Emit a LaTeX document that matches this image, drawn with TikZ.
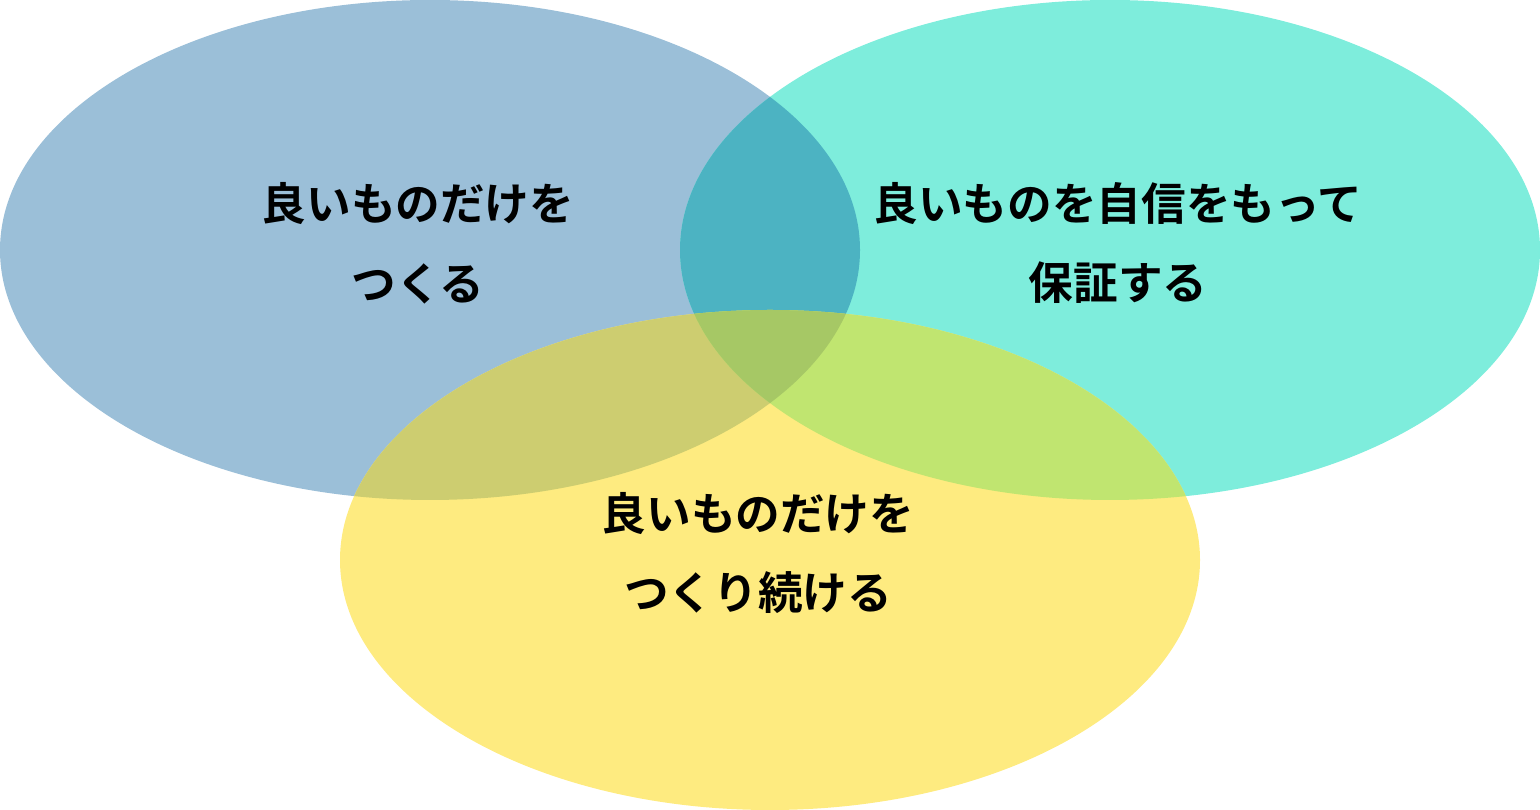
\documentclass[tikz,border=0pt]{standalone}
\usepackage{fontspec}
\usepackage{tikz}
\newfontfamily\jpfont{Noto Sans CJK JP}[BoldFont={Noto Sans CJK JP Bold}]
\definecolor{blueonly}{RGB}{155, 191, 216}
\definecolor{tealonly}{RGB}{126, 237, 220}
\definecolor{yellowonly}{RGB}{254, 235, 128}
\definecolor{blueteal}{RGB}{76, 179, 194}
\definecolor{blueyellow}{RGB}{205, 205, 112}
\definecolor{tealyellow}{RGB}{192, 229, 112}
\definecolor{allthree}{RGB}{166, 200, 101}

\begin{document}
\begin{tikzpicture}[
    label/.style={font=\jpfont\bfseries\fontsize{25.4}{45.5}\selectfont,
        align=center, text=black, inner sep=0pt}
]
\useasboundingbox (0,0) rectangle (30.8,16.2);

\coordinate (cblue) at (8.6,11.2);
\coordinate (cteal) at (22.2,11.2);
\coordinate (cyellow) at (15.4,5);

% plain fills
\fill[blueonly] (cblue) ellipse [x radius=8.6, y radius=5];
\fill[tealonly] (cteal) ellipse [x radius=8.6, y radius=5];
\fill[yellowonly] (cyellow) ellipse [x radius=8.6, y radius=5];

% overlaps
\begin{scope}
    \clip (cblue) ellipse [x radius=8.6, y radius=5];
    \fill[blueteal] (cteal) ellipse [x radius=8.6, y radius=5];
    \fill[blueyellow] (cyellow) ellipse [x radius=8.6, y radius=5];
\end{scope}
\begin{scope}
    \clip (cteal) ellipse [x radius=8.6, y radius=5];
    \fill[tealyellow] (cyellow) ellipse [x radius=8.6, y radius=5];
    \clip (cblue) ellipse [x radius=8.6, y radius=5];
    \fill[allthree] (cyellow) ellipse [x radius=8.6, y radius=5];
\end{scope}

\node[label] (make) at (8.36,11.34) {良いものだけを\\つくる};
\node[label] (assure) at (22.36,11.34) {良いものを自信をもって\\保証する};
\node[label] (keep) at (15.16,5.14) {良いものだけを\\つくり続ける};

\end{tikzpicture}
\end{document}
